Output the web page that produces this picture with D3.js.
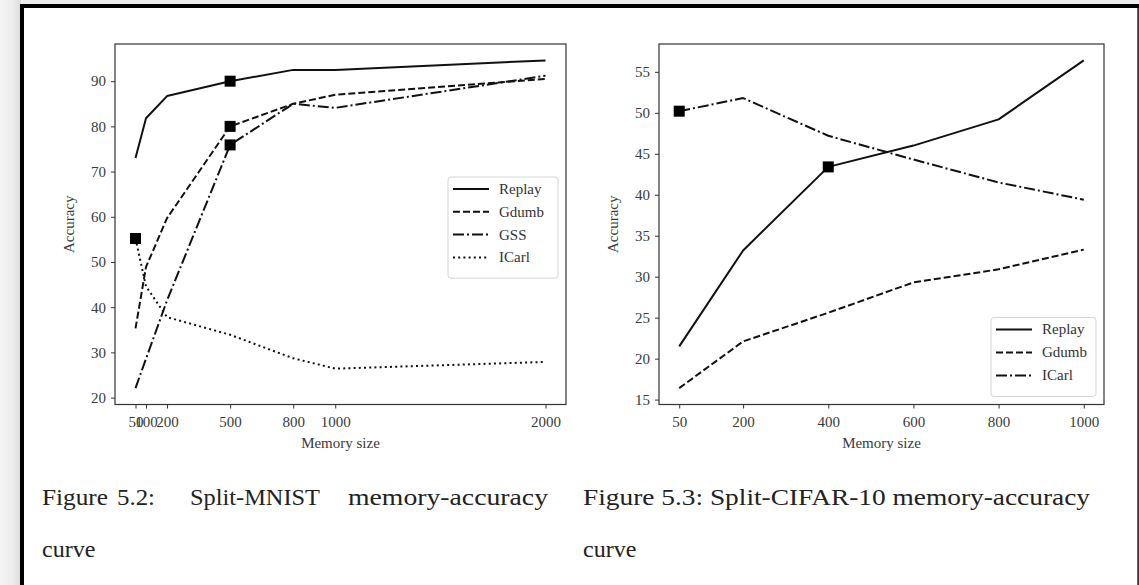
<!DOCTYPE html>
<html>
<head>
<meta charset="utf-8">
<script src="https://cdn.jsdelivr.net/npm/d3@7"></script>
<style>
  html, body { margin: 0; padding: 0; background: #fff; }
  svg { display: block; }
  text { font-family: "Liberation Serif", "DejaVu Serif", serif; }
</style>
</head>
<body>
<svg id="chart" width="1139" height="585"></svg>
<script>
// ---------- DATA ----------
const mnistMemory = [50, 100, 200, 500, 800, 1000, 2000];
const mnistTicks = [50, 100, 200, 500, 800, 1000, 2000];
const mnistYTicks = [20, 30, 40, 50, 60, 70, 80, 90];
const mnistReplay = [73.0, 81.8, 86.7, 90.0, 92.5, 92.5, 94.6];
const mnistGdumb  = [35.3, 48.9, 59.7, 80.0, 85.0, 87.0, 90.5];
const mnistGSS    = [22.1, 28.6, 41.5, 75.9, 85.0, 84.1, 91.2];
const mnistICarl  = [55.2, 44.6, 37.8, 33.9, 28.7, 26.4, 27.9];

const cifarMemory = [50, 200, 400, 600, 800, 1000];
const cifarTicks = [50, 200, 400, 600, 800, 1000];
const cifarYTicks = [15, 20, 25, 30, 35, 40, 45, 50, 55];
const cifarReplay = [21.5, 33.2, 43.4, 46.0, 49.2, 56.4];
const cifarGdumb  = [16.4, 22.1, 25.6, 29.3, 30.9, 33.3];
const cifarICarl  = [50.2, 51.8, 47.2, 44.3, 41.5, 39.4];

const mnistNames = ["Replay", "Gdumb", "GSS", "ICarl"];
const cifarNames = ["Replay", "Gdumb", "ICarl"];
// highlighted (square marker) points: [series name, memory size]
const mnistMarked = [["Replay", 500], ["Gdumb", 500], ["GSS", 500], ["ICarl", 50]];
const cifarMarked = [["ICarl", 50], ["Replay", 400]];

const captionLeft = ["Figure", "5.2:", "Split-MNIST", "memory-accuracy"];
const captionRight = "Figure 5.3: Split-CIFAR-10 memory-accuracy";
const captionLine2 = "curve";

// ---------- STYLE ----------
const dashes = {
  Replay: null,
  Gdumb: "7,3",
  GSS: "11,3,2,3",
  ICarl: "2,3.2"
};
const cifarDashes = { Replay: null, Gdumb: "7,3", ICarl: "11,3,2,3" };

const svg = d3.select("#chart");
const W = 1139, H = 585;

// ---------- PAGE FRAME ----------
const defs = svg.append("defs");
const gl = defs.append("linearGradient").attr("id", "gl").attr("x1", 0).attr("x2", 1).attr("y1", 0).attr("y2", 0);
gl.append("stop").attr("offset", "0%").attr("stop-color", "#f4f4f4");
gl.append("stop").attr("offset", "60%").attr("stop-color", "#ececec");
gl.append("stop").attr("offset", "100%").attr("stop-color", "#dcdcdc");
svg.append("rect").attr("x", 0).attr("y", 0).attr("width", W).attr("height", H).attr("fill", "#ececec");
svg.append("rect").attr("x", 0).attr("y", 0).attr("width", 21).attr("height", H).attr("fill", "url(#gl)");
svg.append("rect").attr("x", 20).attr("y", 4).attr("width", W - 20).attr("height", H - 4).attr("fill", "#000");
svg.append("rect").attr("x", 24).attr("y", 8).attr("width", W - 24 - 2).attr("height", H - 8).attr("fill", "#fff");
svg.append("rect").attr("x", W - 2).attr("y", 8).attr("width", 1.5).attr("height", H - 8).attr("fill", "#666");

// ---------- CHART FUNCTION ----------
function drawChart(cfg) {
  const g = svg.append("g");
  const { x0, x1, y0, y1 } = cfg.box;
  const xs = cfg.memory;
  const xMin = d3.min(xs), xMax = d3.max(xs), xPad = (xMax - xMin) * 0.05;
  const allY = cfg.series.flatMap(s => s.values);
  const yMin = d3.min(allY), yMax = d3.max(allY), yPad = (yMax - yMin) * 0.05;
  const x = d3.scaleLinear().domain([xMin - xPad, xMax + xPad]).range([x0, x1]);
  const y = d3.scaleLinear().domain([yMin - yPad, yMax + yPad]).range([y1, y0]);

  // axes
  const xAxis = d3.axisBottom(x).tickValues(cfg.xTicks).tickSize(4).tickPadding(5).tickFormat(d3.format("d"));
  const yAxis = d3.axisLeft(y).tickValues(cfg.yTicks).tickSize(4).tickPadding(5).tickFormat(d3.format("d"));
  const gx = g.append("g").attr("transform", `translate(0,${y1})`).call(xAxis);
  const gy = g.append("g").attr("transform", `translate(${x0},0)`).call(yAxis);
  [gx, gy].forEach(a => {
    a.select(".domain").remove();
    a.selectAll(".tick line").attr("stroke", "#333").attr("stroke-width", 1);
    a.selectAll(".tick text").attr("fill", "#3a3a3a").attr("font-size", 15)
      .attr("font-family", "'Liberation Serif', serif");
  });
  gx.selectAll(".tick text").attr("dy", "0.9em");

  // frame
  g.append("rect").attr("x", x0).attr("y", y0).attr("width", x1 - x0).attr("height", y1 - y0)
    .attr("fill", "none").attr("stroke", "#333").attr("stroke-width", 1.2);

  // labels
  g.append("text").attr("x", (x0 + x1) / 2).attr("y", y1 + 43).attr("text-anchor", "middle")
    .attr("font-size", 15).attr("fill", "#3a3a3a").text("Memory size");
  g.append("text").attr("transform", `translate(${x0 - 41},${(y0 + y1) / 2}) rotate(-90)`)
    .attr("text-anchor", "middle").attr("font-size", 15).attr("fill", "#3a3a3a").text("Accuracy");

  // lines
  const line = d3.line().x((d, i) => x(xs[i])).y(d => y(d));
  const clip = "clip" + cfg.id;
  defs.append("clipPath").attr("id", clip).append("rect")
    .attr("x", x0).attr("y", y0).attr("width", x1 - x0).attr("height", y1 - y0);
  const lg = g.append("g").attr("clip-path", `url(#${clip})`);
  cfg.series.forEach(s => {
    lg.append("path").attr("d", line(s.values)).attr("fill", "none")
      .attr("stroke", "#111").attr("stroke-width", 2)
      .attr("stroke-dasharray", s.dash).attr("stroke-linejoin", "round");
  });
  // markers
  const ms = 11;
  cfg.marked.forEach(([name, mem]) => {
    const s = cfg.series.find(t => t.name === name);
    const i = xs.indexOf(mem);
    g.append("rect").attr("x", x(mem) - ms / 2).attr("y", y(s.values[i]) - ms / 2)
      .attr("width", ms).attr("height", ms).attr("fill", "#000");
  });

  // legend
  const L = cfg.legend;
  const n = cfg.series.length;
  const lh = n * L.step + 10;
  const lx1 = x1 - 8, lx0 = lx1 - L.w;
  const ly0 = L.top != null ? L.top : (y1 - 8 - lh);
  g.append("rect").attr("x", lx0).attr("y", ly0).attr("width", L.w).attr("height", lh)
    .attr("rx", 3).attr("fill", "#fff").attr("fill-opacity", 0.85).attr("stroke", "#d6d6d6").attr("stroke-width", 1);
  cfg.series.forEach((s, i) => {
    const yy = ly0 + 12 + i * L.step;
    g.append("line").attr("x1", lx0 + 5).attr("x2", lx0 + 41).attr("y1", yy).attr("y2", yy)
      .attr("stroke", "#111").attr("stroke-width", 2).attr("stroke-dasharray", s.dash);
    g.append("text").attr("x", lx0 + 51).attr("y", yy).attr("dy", "0.33em")
      .attr("font-size", 15).attr("fill", "#333").text(s.name);
  });
}

drawChart({
  id: "L",
  box: { x0: 115, x1: 566, y0: 44, y1: 404.5 },
  memory: mnistMemory, xTicks: mnistTicks, yTicks: mnistYTicks,
  series: [
    { name: mnistNames[0], values: mnistReplay, dash: dashes.Replay },
    { name: mnistNames[1], values: mnistGdumb, dash: dashes.Gdumb },
    { name: mnistNames[2], values: mnistGSS, dash: dashes.GSS },
    { name: mnistNames[3], values: mnistICarl, dash: dashes.ICarl }
  ],
  marked: mnistMarked,
  legend: { w: 110, step: 22.8, top: 177 }
});

drawChart({
  id: "R",
  box: { x0: 659, x1: 1104, y0: 44, y1: 404.5 },
  memory: cifarMemory, xTicks: cifarTicks, yTicks: cifarYTicks,
  series: [
    { name: cifarNames[0], values: cifarReplay, dash: cifarDashes.Replay },
    { name: cifarNames[1], values: cifarGdumb, dash: cifarDashes.Gdumb },
    { name: cifarNames[2], values: cifarICarl, dash: cifarDashes.ICarl }
  ],
  marked: cifarMarked,
  legend: { w: 105, step: 23, top: null }
});

// ---------- CAPTIONS ----------
const capSize = 24;
const leftWordX = [42, 117, 190, 348];
const leftWordW = [66, 38, 130, 200];
captionLeft.forEach((w, i) => {
  svg.append("text").attr("x", leftWordX[i]).attr("y", 505).attr("font-size", capSize).attr("fill", "#222")
    .attr("textLength", leftWordW[i]).attr("lengthAdjust", "spacingAndGlyphs").text(w);
});
svg.append("text").attr("x", 583).attr("y", 505).attr("font-size", capSize).attr("fill", "#222")
  .attr("textLength", 507).attr("lengthAdjust", "spacingAndGlyphs").text(captionRight);
svg.append("text").attr("x", 42).attr("y", 557).attr("font-size", capSize).attr("fill", "#222").text(captionLine2);
svg.append("text").attr("x", 583).attr("y", 557).attr("font-size", capSize).attr("fill", "#222").text(captionLine2);
</script>
</body>
</html>
